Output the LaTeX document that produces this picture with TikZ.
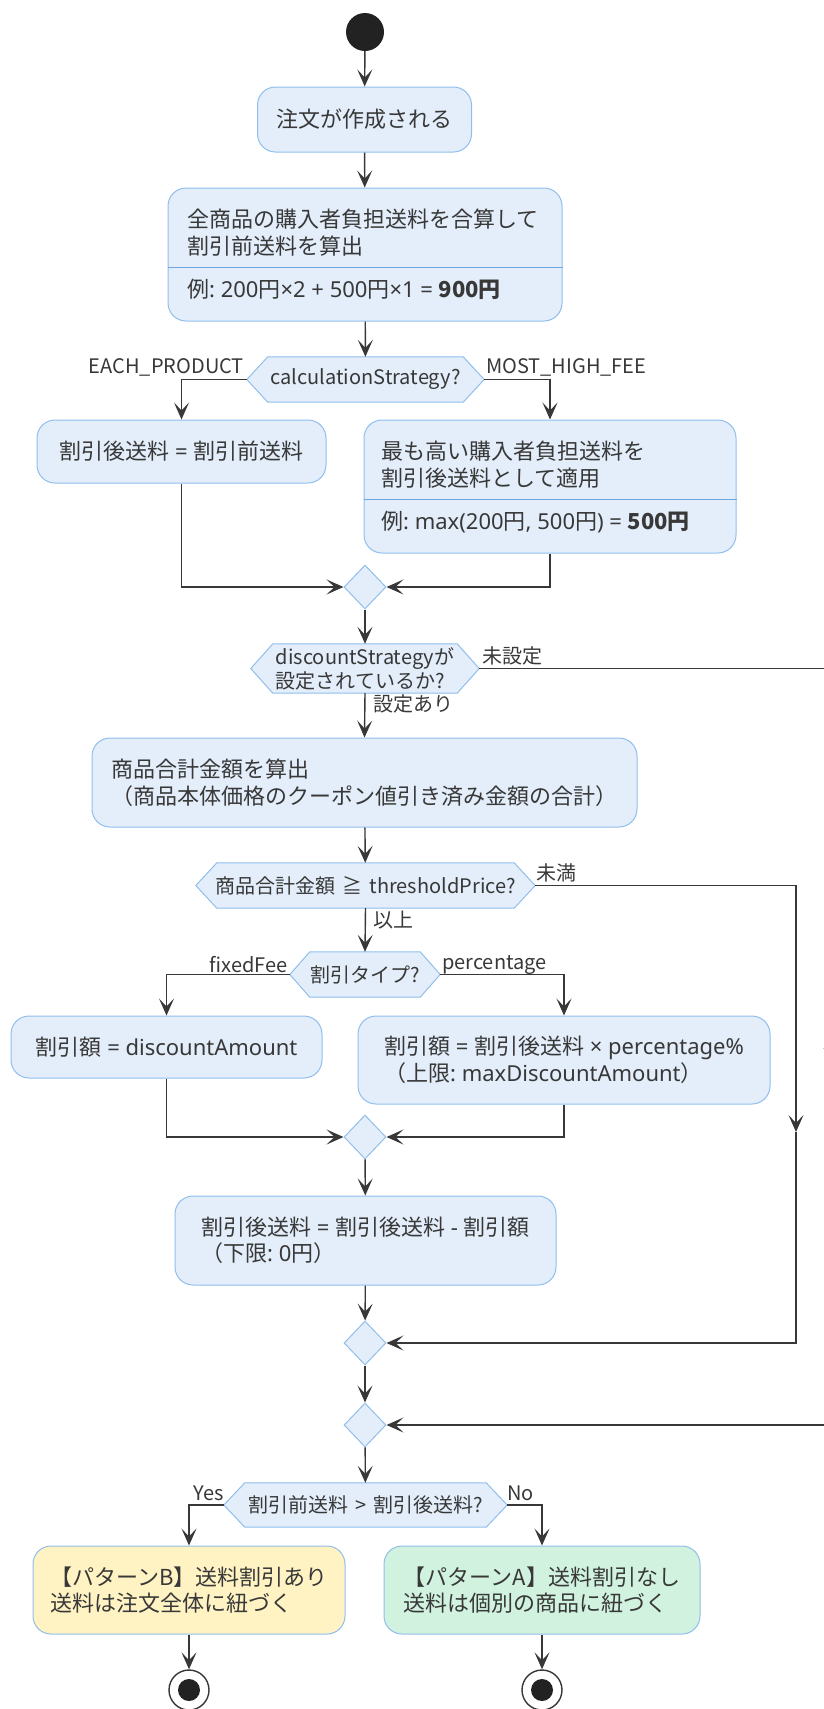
\documentclass[tikz,border=0pt]{standalone}
\usepackage{fontspec}
\setmainfont{Noto Sans CJK JP}[WordSpace=1.6]
\newfontfamily\latfont{Noto Sans}
\newcommand\lt[1]{{\latfont #1}}
\usetikzlibrary{arrows.meta,shapes.geometric}
\pgfdeclarelayer{bg}
\pgfsetlayers{bg,main}
\definecolor{boxfill}{HTML}{E3EEFA}
\definecolor{boxline}{HTML}{90BEEC}
\definecolor{divline}{HTML}{6FA6E4}
\definecolor{yel}{HTML}{FFF3C4}
\definecolor{grn}{HTML}{D0F2DF}
\definecolor{ink}{HTML}{383838}
\definecolor{dot}{HTML}{222222}
\newcommand\boxfs{\fontsize{22}{26.5}\selectfont}
\newcommand\decfs{\fontsize{20}{24}\selectfont}
\newcommand\hexa[2]{\begin{pgfonlayer}{bg}\filldraw[draw=boxline,fill=boxfill,line width=1pt] (#1.west) -- ([xshift=#2]#1.north west) -- ([xshift=-#2]#1.north east) -- (#1.east) -- ([xshift=-#2]#1.south east) -- ([xshift=#2]#1.south west) -- cycle;\end{pgfonlayer}}
\tikzset{
  act/.style={draw=boxline, fill=boxfill, line width=1pt, rounded corners=18pt, inner sep=0pt, font=\boxfs, text=ink, align=left},
  txt/.style={inner sep=0pt, font=\boxfs, text=ink, align=left},
  dec/.style={inner sep=0pt, font=\decfs, text=ink, align=left},
  merge/.style={diamond, draw=boxline, fill=boxfill, line width=1pt, minimum width=42pt, minimum height=44pt, inner sep=0pt},
  lbl/.style={inner sep=0pt, font=\decfs, text=ink},
  conn/.style={draw=ink, line width=1.4pt, -{Stealth[length=17pt,width=15pt,inset=8pt]}},
}
\frenchspacing
\begin{document}
\begin{tikzpicture}[x=1pt,y=-1pt]
\useasboundingbox (0,0) rectangle (824,1709);
% start
\node[circle, fill=dot, minimum size=38pt, inner sep=0pt] (start) at (365,32) {};
\node[act, minimum width=214pt, minimum height=65pt] (b1) at (364.5,119.5) {注文が作成される};
% box 2 (split)
\node[act, minimum width=394pt, minimum height=133pt] (b2) at (365,254.5) {};
\draw[divline, line width=1pt] (b2.west |- 0,267) -- (b2.east |- 0,267);
\node[txt, anchor=west] (b2a) at (187,232.5) {全商品の購入者負担送料を合算して\\割引前送料を算出};
\node[txt, anchor=west] (b2b) at (187,289) {例\lt{: 200}円\lt{×2 + 500}円\lt{×1 = }\textbf{900円}};
% decision 1
\node[dec, minimum width=237pt, minimum height=45pt, align=center] (d1) at (365.5,379.5) {calculationStrategy?};
\hexa{d1}{21pt}
\node[lbl, anchor=east] (l1) at (244,367) {EACH\_PRODUCT};
\node[lbl, anchor=west] (l2) at (486,367) {MOST\_HIGH\_FEE};
\node[act, minimum width=289pt, minimum height=63pt] (b3) at (181.5,451.5) {割引後送料\lt{ = }割引前送料};
% box 4 (split)
\node[act, minimum width=372pt, minimum height=133pt] (b4) at (550,486.5) {};
\draw[divline, line width=1pt] (b4.west |- 0,499) -- (b4.east |- 0,499);
\node[txt, anchor=west] (b4a) at (381,464.5) {最も高い購入者負担送料を\\割引後送料として適用};
\node[txt, anchor=west] (b4b) at (381,522) {例\lt{: max(200}円\lt{, 500}円\lt{) = }\textbf{500円}};
\node[merge] (m1) at (365,587) {};
% decision 2
\node[dec, minimum width=228pt, minimum height=49pt] (d2) at (365,668.5) {discountStrategyが\\設定されているか?};
\hexa{d2}{22pt}
\node[lbl, anchor=west] (l3) at (482,656) {未設定};
\node[lbl, anchor=west] (l4) at (373,704) {設定あり};
\node[act, minimum width=545pt, minimum height=89pt] (b5) at (364.5,782.5) {商品合計金額を算出\\（商品本体価格のクーポン値引き済み金額の合計）};
% decision 3
\node[dec, minimum width=339pt, minimum height=45pt, align=center] (d3) at (365.5,885.5) {商品合計金額 ≧ thresholdPrice?};
\hexa{d3}{21pt}
\node[lbl, anchor=west] (l5) at (536,873) {未満};
\node[lbl, anchor=west] (l6) at (373,920) {以上};
% decision 4
\node[dec, minimum width=150pt, minimum height=45pt, align=center] (d4) at (365,974.5) {割引タイプ?};
\hexa{d4}{20pt}
\node[lbl, anchor=east] (l7) at (288,965) {fixedFee};
\node[lbl, anchor=west] (l8) at (442,965) {percentage};
\node[act, minimum width=311pt, minimum height=62pt] (b6) at (166.5,1047) {割引額\lt{ = discountAmount}};
\node[act, minimum width=412pt, minimum height=88pt] (b7) at (564,1060) {割引額\lt{ = }割引後送料\lt{ × percentage\%}\\（上限\lt{: maxDiscountAmount}）};
\node[merge] (m3) at (365,1137) {};
\node[act, minimum width=381pt, minimum height=89pt] (b8) at (365.5,1240.5) {割引後送料\lt{ = }割引後送料\lt{ - }割引額\\（下限\lt{: 0}円）};
\node[merge] (m4) at (365,1343) {};
\node[merge] (m5) at (365,1425) {};
% decision 5
\node[dec, minimum width=283pt, minimum height=44pt, align=center] (d5) at (365.5,1505) {割引前送料 > 割引後送料?};
\hexa{d5}{21pt}
\node[lbl, anchor=east] (l9) at (224,1493) {Yes};
\node[lbl, anchor=west] (l10) at (507,1493) {No};
\node[act, fill=yel, minimum width=312pt, minimum height=88pt] (b9) at (189,1590) {【パターンB】送料割引あり\\送料は注文全体に紐づく};
\node[act, fill=grn, minimum width=316pt, minimum height=88pt] (b10) at (542,1590) {【パターンA】送料割引なし\\送料は個別の商品に紐づく};
% end nodes
\node[circle, draw=ink, line width=1.4pt, fill=white, minimum size=40pt, inner sep=0pt] (e1) at (189,1690) {};
\node[circle, fill=dot, minimum size=22pt, inner sep=0pt] (e1i) at (e1) {};
\node[circle, draw=ink, line width=1.4pt, fill=white, minimum size=40pt, inner sep=0pt] (e2) at (542,1690) {};
\node[circle, fill=dot, minimum size=22pt, inner sep=0pt] (e2i) at (e2) {};
% coordinates for long routes
\coordinate (r1) at (831,668.5);
\coordinate (r2) at (831,1065);
\coordinate (r3) at (831,1425);
\coordinate (q1) at (796,885.5);
\coordinate (q2) at (796,1132);
\coordinate (q3) at (796,1343);
% connectors
\draw[conn] (start) -- (b1);
\draw[conn] (b1) -- (b2);
\draw[conn] (b2) -- (d1);
\draw[conn] (d1.west) -| (b3.north);
\draw[conn] (d1.east) -| (b4.north);
\draw[conn] (b3.south) |- (m1.west);
\draw[conn] (b4.south) |- (m1.east);
\draw[conn] (m1) -- (d2);
\draw[conn] (d2.south) -- (b5.north);
\draw[conn] (d2.east) -- (r1) -- (r2);
\draw[conn] (r2) -- (r3) -- (m5.east);
\draw[conn] (b5) -- (d3);
\draw[conn] (d3.east) -- (q1) -- (q2);
\draw[conn] (q2) -- (q3) -- (m4.east);
\draw[conn] (d3.south) -- (d4.north);
\draw[conn] (d4.west) -| (b6.north);
\draw[conn] (d4.east) -| (b7.north);
\draw[conn] (b6.south) |- (m3.west);
\draw[conn] (b7.south) |- (m3.east);
\draw[conn] (m3) -- (b8);
\draw[conn] (b8) -- (m4);
\draw[conn] (m4) -- (m5);
\draw[conn] (m5) -- (d5);
\draw[conn] (d5.west) -| (b9.north);
\draw[conn] (d5.east) -| (b10.north);
\draw[conn] (b9) -- (e1);
\draw[conn] (b10) -- (e2);
\end{tikzpicture}
\end{document}
